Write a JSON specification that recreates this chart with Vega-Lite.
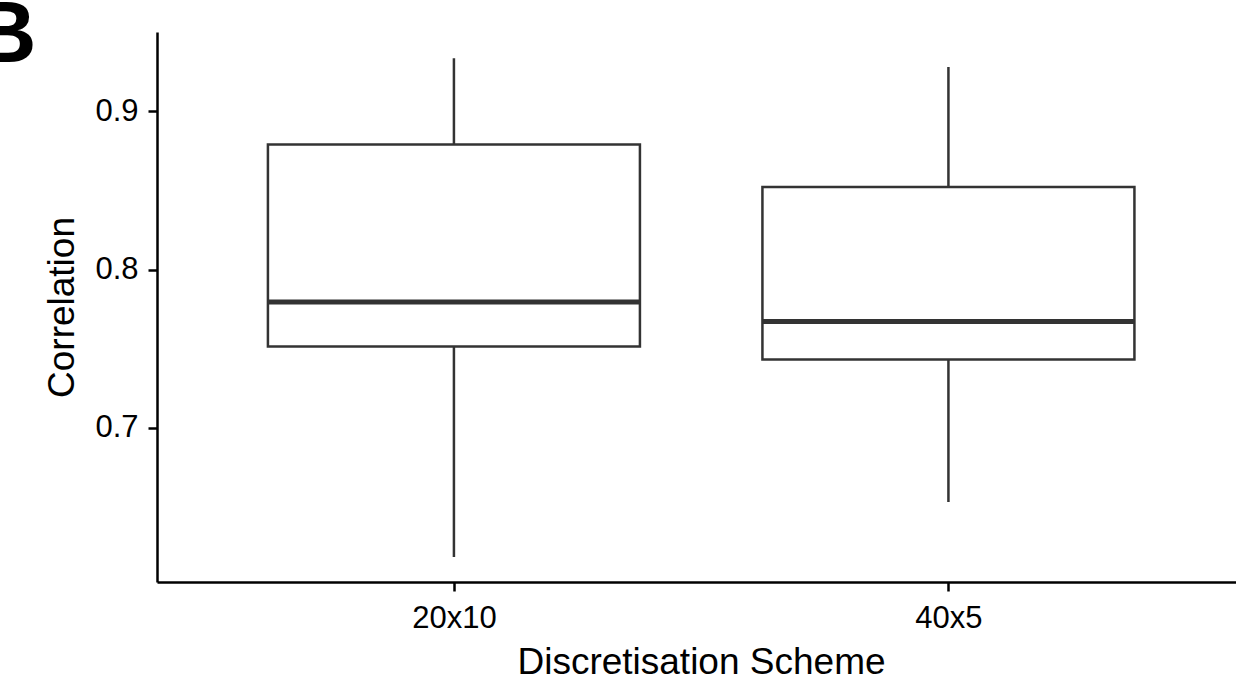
{
  "$schema": "https://vega.github.io/schema/vega-lite/v6.json",
  "width": 1079,
  "height": 550,
  "autosize": {"type": "none"},
  "padding": {"left": 157, "top": 32, "right": 0, "bottom": 106},
  "background": "white",
  "config": {
    "view": {"stroke": null},
    "font": "Liberation Sans",
    "axis": {
      "grid": false,
      "domainColor": "black",
      "domainWidth": 2.5,
      "tickColor": "black",
      "tickWidth": 2.5,
      "tickSize": 9,
      "labelColor": "black",
      "titleColor": "black",
      "labelFont": "Liberation Sans",
      "titleFont": "Liberation Sans",
      "labelFontSize": 31,
      "titleFontSize": 37,
      "titleFontWeight": "normal"
    }
  },
  "title": {
    "text": "B",
    "anchor": "start",
    "frame": "group",
    "orient": "none",
    "font": "Liberation Sans",
    "fontSize": 88,
    "fontWeight": "bold",
    "color": "black",
    "baseline": "alphabetic",
    "offset": 0,
    "dx": -184,
    "dy": 30
  },
  "data": {
    "values": [
      {"scheme": "20x10", "lower": 0.6185, "q1": 0.7515, "median": 0.7795, "q3": 0.879, "upper": 0.9335},
      {"scheme": "40x5", "lower": 0.6533, "q1": 0.7433, "median": 0.7673, "q3": 0.8522, "upper": 0.928}
    ]
  },
  "encoding": {
    "x": {
      "field": "scheme",
      "type": "nominal",
      "title": "Discretisation Scheme",
      "scale": {"type": "point", "padding": 0.591, "align": 0.508},
      "axis": {"labelAngle": 0, "labelPadding": 12, "titlePadding": 11, "titleX": 544}
    }
  },
  "layer": [
    {
      "mark": {"type": "rule", "stroke": "#333333", "strokeWidth": 2.5, "opacity": 1},
      "encoding": {
        "y": {
          "field": "lower",
          "type": "quantitative",
          "title": "Correlation",
          "scale": {"domain": [0.6027, 0.9501], "nice": false, "zero": false},
          "axis": {"values": [0.7, 0.8, 0.9], "format": ".1f", "labelPadding": 10, "titlePadding": 13}
        },
        "y2": {"field": "upper"}
      }
    },
    {
      "mark": {"type": "bar", "size": 372, "fill": "white", "stroke": "#333333", "strokeWidth": 2.5, "opacity": 1},
      "encoding": {
        "y": {"field": "q1", "type": "quantitative"},
        "y2": {"field": "q3"}
      }
    },
    {
      "mark": {"type": "tick", "size": 372, "thickness": 5, "color": "#333333", "opacity": 1, "orient": "horizontal"},
      "encoding": {
        "y": {"field": "median", "type": "quantitative"}
      }
    }
  ]
}
